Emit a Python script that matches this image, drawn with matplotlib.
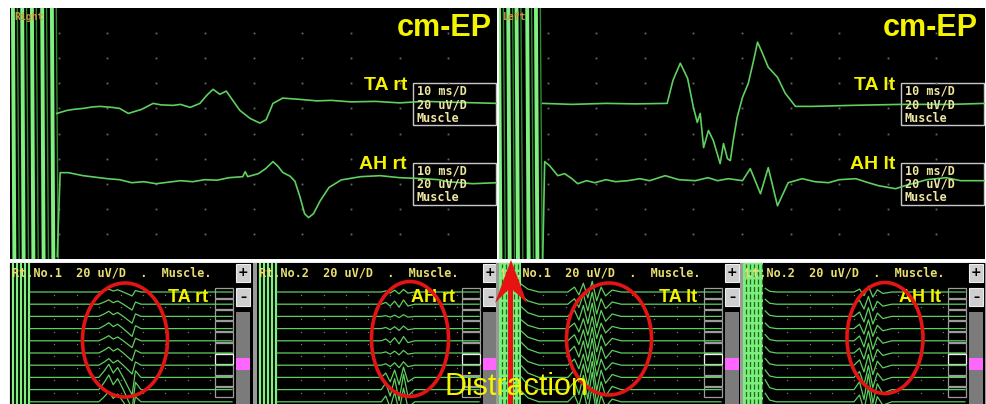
import numpy as np
import matplotlib
matplotlib.use("Agg")
import matplotlib.pyplot as plt
from matplotlib.patches import Rectangle, Ellipse, Polygon

W, H = 986, 404

# ---- top sweeps: time in ms (10 ms/D), amplitude in uV (20 uV/D) ----
TA_RT_T = [9.6, 11.7, 13, 15, 17, 18.5, 21, 22.5, 24.3, 27, 29.4, 31, 33.5, 35, 37, 39, 40.4,
           41.7, 43.1, 44.4, 47.2, 49.3, 51.3, 52.6, 54, 56, 59.5, 63, 66, 70, 75, 80, 85, 92, 100]
TA_RT_UV = [-4, -1.6, -0.8, 0, 1.2, 1.6, 0.8, 0, -4, -0.8, 4, 2.8, 2.4, 3.2, 0.8, 4, 10.4,
            15.2, 11.2, 13.8, -1.6, -8, -11.7, -9, 4, 8.2, 7.2, 6.0, 6.4, 5.2, 5.6, 4.4, 5.6, 4.8, 4]

AH_RT_T = [9.7, 10.3, 12, 15, 17.5, 20, 22.5, 25, 27.5, 30, 32.5, 35, 37.5, 40, 42.5, 45, 47.8,
           48.3, 48.8, 51, 52.5, 54, 55, 56, 57.5, 58.5, 59.5, 60.5, 61.3, 62.3, 63.7, 65.5,
           68, 72, 76, 80, 85, 88, 90, 95, 100]
AH_RT_UV = [-58, 8.8, 8.8, 6.4, 5.2, 4, 3.2, 0.8, 1.6, 0, 1.2, 2.4, 1.6, 3.2, 2.8, 4.8, 5.6,
            9.6, 5.6, 8, 12, 17.6, 14, 9, 6, 2, -10, -24, -27, -24, -13.6, -3,
            3, 5.6, 6.4, 4.8, 4, 3.2, 1.6, 0, 0.8]

TA_LT_T = [9.0, 15, 22, 28, 34.6, 35.8, 37.3, 38.8, 40.0, 40.8, 41.4, 42.1, 43.1, 44.1, 45.5,
           46.2, 47.0, 47.6, 48.2, 49.0, 50.1, 51.3, 52.4, 53.2, 54.2, 55.4, 57.3, 58.9, 61.0,
           64.5, 72.3, 82.6, 92.9, 100]
TA_LT_UV = [4, 3.2, 4, 3.6, 4, 22.4, 36, 24, 0.8, -11.2, -4, -31.2, -17.6, -25.6, -44,
            -28, -40, -41.6, -25.6, -7.2, 8.8, 20, 38.4, 52.8, 44, 32.8, 24.8, 12, 1.6,
            1.6, 2.4, 3.2, 3.2, 4]

AH_LT_T = [9.0, 9.4, 10.4, 12.1, 13.5, 15.0, 16.2, 18, 19.7, 22, 24, 26.5, 29, 31, 34.2, 37,
           40.4, 43, 45, 47.2, 50.1, 51.7, 53.8, 55.4, 57.3, 59.5, 62.4, 65, 67.8, 70, 73.4,
           76, 78.1, 81.6, 83.5, 85.8, 88, 92.0, 95, 100]
AH_LT_UV = [-60, 17.6, 14.4, 6.4, 8, 4, 0, 2.4, 0.8, 3.2, 1.6, 2.4, 4, 2.4, 6.4, 3.2,
            2.4, 4.8, 2.4, 4, 2.4, 12, -8, 12.8, -17.6, 0.8, 4, 1.6, 0.8, 3.2, 4,
            0.8, -1.6, -4, -1.6, 0.8, 3.2, 4.8, 2.4, 2.4]

ART_RT_T = [0.6, 2.5, 4.5, 6.6, 8.6]
ART_LT_T = [0.0, 1.9, 3.6, 5.8, 7.6]

# ---- bottom sweeps: response shape (ms, divisions) and per-sweep size ----
B_TA_RT_T = [9, 40, 42.5, 44.5, 46.5, 48.5, 51, 53.5, 55, 56.5, 59, 100]
B_TA_RT_V = [0, 0, 0.3, 0.6, 0.2, 0.45, 0, -0.5, -0.8, 0.3, 0, 0]
B_TA_RT_G = [0.4, 0.6, 0.7, 0.8, 0.7, 0.8, 0.9, 1.8, 2.0, 1.4]

B_AH_RT_T = [9, 56, 58, 60, 62, 64, 66, 68, 71, 100]
B_AH_RT_V = [0, 0, 0.3, -0.3, 0.5, -0.5, 0.7, -0.3, 0, 0]
B_AH_RT_G = [0.3, 0.5, 0.2, 0.3, 0.5, 0.3, 0.4, 1.2, 1.8, 1.6]

B_TA_LT_T = [10, 13, 18, 31, 34, 36, 38, 40, 42, 44, 46, 48, 51, 55, 100]
B_TA_LT_V = [0.8, 0.3, 0, 0, 0.5, -0.3, 0.9, -0.6, 1.1, -0.9, 0.5, -0.4, 0.2, 0, 0]
B_TA_LT_G = [0.8, 0.9, 1.0, 0.9, 1.0, 1.1, 1.0, 1.2, 1.3, 1.1]

B_AH_LT_T = [10, 12, 15, 50, 52.5, 54.5, 56.5, 58.5, 60.5, 63, 67, 100]
B_AH_LT_V = [0.5, 0.1, 0, 0, 0.4, -0.5, 0.8, -0.7, 0.3, -0.2, 0, 0]
B_AH_LT_G = [0.6, 0.8, 0.9, 0.9, 1.0, 1.0, 1.1, 1.2, 1.6, 1.4]

TRACE = '#5fcf5f'
ART = '#80f080'
YEL = '#f4f400'
INFO = '#efe6a0'
MONO = 'DejaVu Sans Mono'
SANS = 'Liberation Sans'
TA_BASE, AH_BASE = 120, 60
PX_MS, PX_TR = 2.22, 12.2   # bottom panels: px per ms, px per sweep

fig = plt.figure(figsize=(W / 100, H / 100), dpi=100)
fig.patch.set_facecolor('white')


def px_rect(x0, y0, x1, y1):
    return [x0 / W, 1 - y1 / H, (x1 - x0) / W, (y1 - y0) / H]


def black_axes(rect, xlim, ylim):
    ax = fig.add_axes(rect)
    ax.set_facecolor('black')
    ax.set_xlim(*xlim)
    ax.set_ylim(*ylim)
    ax.set_xticks([])
    ax.set_yticks([])
    for s in ax.spines.values():
        s.set_visible(False)
    return ax


def draw_top(rect, art, ta, ah, names, side, right_edge):
    ax = black_axes(rect, (0, 100), (0, 200))
    gx, gy = np.meshgrid(np.arange(10, 100, 10), np.arange(20, 200, 20))
    ax.plot(gx.ravel(), gy.ravel(), 's', ms=1.3, color='#6a6a6a', mec='none')
    for t in art:
        ax.plot([t + 0.9, t + 1.3], [200, 0], color='#2e8a2e', lw=1.0)
        ax.plot([t, t + 0.3], [200, 0], color=ART, lw=2.8)
    ax.plot(ta[0], np.add(ta[1], TA_BASE), color=TRACE, lw=1.2)
    ax.plot(ah[0], np.add(ah[1], AH_BASE), color=TRACE, lw=1.2)
    ax.text(0.8, 193, side, color='#c89a40', fontsize=7, family=MONO,
            fontweight='bold', va='center')
    ax.text(right_edge, 184, 'cm-EP', color=YEL, fontsize=22, family=SANS,
            fontweight='bold', ha='right', va='center')
    for name, ly, top in [(names[0], 138, 140), (names[1], 75, 76.8)]:
        ax.text(81.5, ly, name, color=YEL, fontsize=14, family=SANS,
                fontweight='bold', ha='right', va='center')
        ax.add_patch(Rectangle((82.8, top - 33.6), 16.9, 33.6, fill=False,
                               ec='#c8c8c8', lw=1.0))
        for i, s in enumerate(['10 ms/D', '20 uV/D', 'Muscle']):
            ax.text(83.5, top - 6.4 - 10.8 * i, s, color=INFO, fontsize=8.5,
                    family=MONO, fontweight='bold', va='center')
    return ax


draw_top(px_rect(10, 8, 497, 259), ART_RT_T, (TA_RT_T, TA_RT_UV),
         (AH_RT_T, AH_RT_UV), ('TA rt', 'AH rt'), 'Right', 99)
draw_top(px_rect(499, 8, 985, 259), ART_LT_T, (TA_LT_T, TA_LT_UV),
         (AH_LT_T, AH_LT_UV), ('TA lt', 'AH lt'), 'Left', 98.6)

# gray frame behind the bottom sweeps
fig.patches.append(Rectangle((10 / W, 0), 975 / W, 141 / H, transform=fig.transFigure,
                             color='#9a9a9a', zorder=-5))


def draw_bottom(x0, x1, header, label, tt, vv, gains, band):
    wpx = x1 - x0
    ax = black_axes(px_rect(x0, 263, x1, 404), (0, wpx / PX_MS), (141 / PX_TR, 0))
    if band:
        ax.axvspan(0, band / PX_MS, color='#7cee7c', lw=0)
        for k in range(5):
            ax.axvline((3 + 4 * k) / PX_MS, color='#1f6a1f', lw=0.9, ls=(0, (4, 2)))
    else:
        for k in range(5):
            ax.axvline((3 + 4 * k) / PX_MS, color=ART, lw=1.6)
    r0 = 29 / PX_TR
    dots = np.arange(20, 100, 10)
    for k, g in enumerate(gains):
        base = r0 + k
        ax.plot(dots, [base + 0.25] * len(dots), 's', ms=0.9, color='#777777', mec='none')
        ax.plot(tt, base - g * np.asarray(vv), color=TRACE, lw=0.9)
    ax.text(2 / PX_MS, 10 / PX_TR, header, color='#e8e070', fontsize=8.6, family=MONO,
            fontweight='bold', va='center')
    ax.text(198 / PX_MS, 34 / PX_TR, label, color=YEL, fontsize=13, family=SANS,
            fontweight='bold', ha='right', va='center')
    for i in range(10):
        top = 25 + 11 * i
        ax.add_patch(Rectangle((205 / PX_MS, (top + 9.5) / PX_TR), 18 / PX_MS, -9.5 / PX_TR,
                               fill=False, ec='#f0f0f0' if i == 6 else '#9c9c9c', lw=0.9))
    bx, bw = 226 / PX_MS, 14 / PX_MS
    for sym, top in [('+', 1), ('\u2013', 25)]:
        ax.add_patch(Rectangle((bx, (top + 18) / PX_TR), bw, -18 / PX_TR,
                               fc='#cfcfcf', ec='#efefef', lw=0.8))
        ax.text(bx + bw / 2, (top + 9) / PX_TR, sym, color='black', fontsize=9,
                fontweight='bold', ha='center', va='center')
    ax.add_patch(Rectangle((bx, 141 / PX_TR), bw, -92 / PX_TR, fc='#7b7b7b', lw=0))
    ax.add_patch(Rectangle((bx, 107 / PX_TR), bw, -12 / PX_TR, fc='#ff66ff', lw=0))


draw_bottom(10, 253, 'Rt.No.1  20 uV/D  .  Muscle.', 'TA rt',
            B_TA_RT_T, B_TA_RT_V, B_TA_RT_G, 0)
draw_bottom(257, 496, 'Rt.No.2  20 uV/D  .  Muscle.', 'AH rt',
            B_AH_RT_T, B_AH_RT_V, B_AH_RT_G, 0)
draw_bottom(499, 740, 'Lt.No.1  20 uV/D  .  Muscle.', 'TA lt',
            B_TA_LT_T, B_TA_LT_V, B_TA_LT_G, 22)
draw_bottom(743, 985, 'Lt.No.2  20 uV/D  .  Muscle.', 'AH lt',
            B_AH_LT_T, B_AH_LT_V, B_AH_LT_G, 20)

# annotations on top of everything, in pixel units
ov = fig.add_axes([0, 0, 1, 1], zorder=10)
ov.set_xlim(0, W)
ov.set_ylim(H, 0)
ov.axis('off')
for cx, cy, ew, eh in [(125, 340, 85, 114), (410, 339, 77, 115),
                       (609, 339, 85, 112), (885, 338, 76, 111)]:
    ov.add_patch(Ellipse((cx, cy), ew, eh, fill=False, ec='#e21414', lw=2.6))
ov.add_patch(Polygon([(511, 260), (527, 303), (513, 290), (513, 404), (508, 404),
                      (508, 290), (495, 303)], closed=True, fc='#e81212', ec='none'))
ov.text(516, 387, 'Distraction', color=YEL, fontsize=22, family=SANS,
        ha='center', va='center')

fig.savefig('out.png', dpi=100, facecolor=fig.get_facecolor())
